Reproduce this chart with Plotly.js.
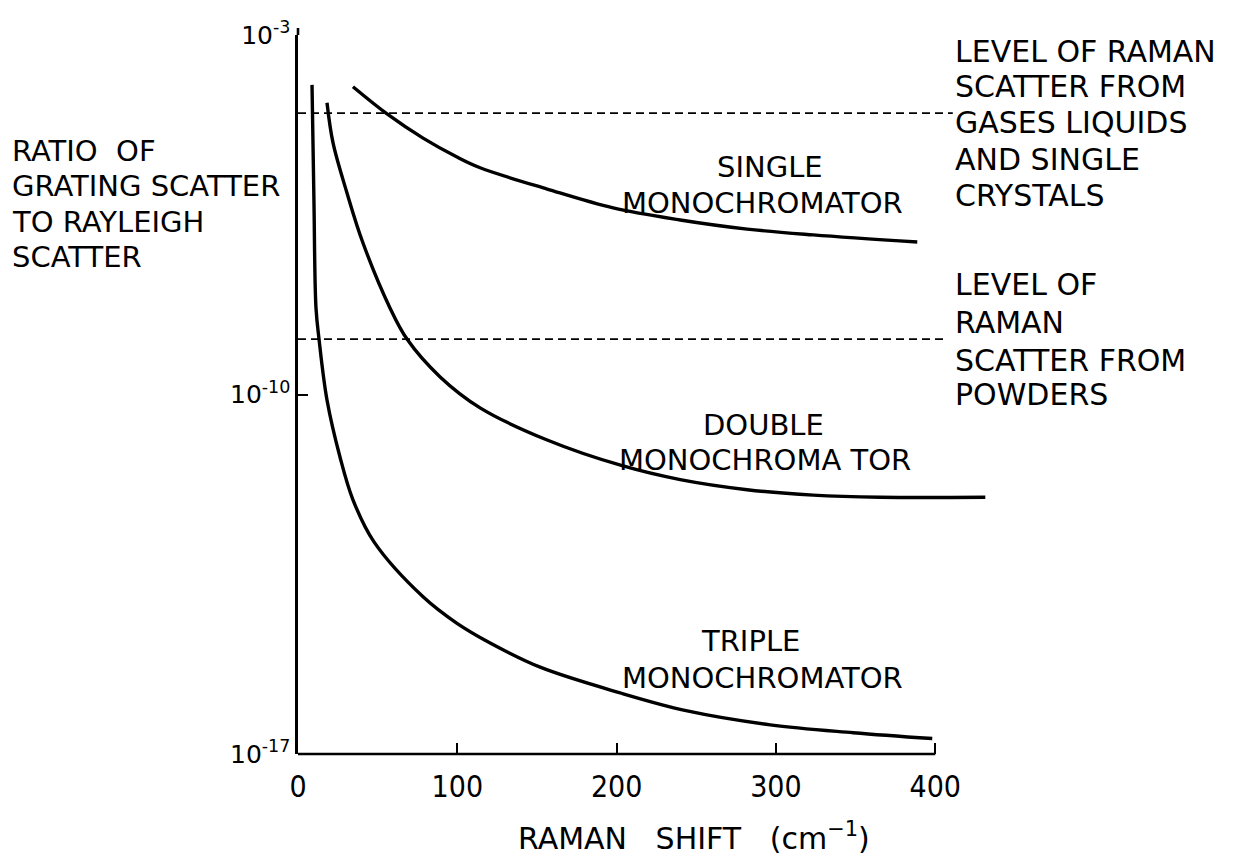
<!DOCTYPE html>
<html>
<head>
<meta charset="utf-8">
<script src="https://cdn.plot.ly/plotly-3.0.1.min.js"></script>
<style>html,body{margin:0;padding:0;background:#fff;}#chart{width:1258px;height:858px;}</style>
</head>
<body>
<div id="chart"></div>
<script>
// ---- data (x: Raman shift cm^-1, y: ratio) ----
const singleX = [34.5, 55.9, 78.5, 99.8, 114.3, 156.4, 197.8, 239.9, 281.9, 323.4, 388.7];
const singleY = [9.8e-5, 2.9e-5, 9.8e-6, 4.2e-6, 2.6e-6, 1.0e-6, 4.3e-7, 2.5e-7, 1.66e-7, 1.28e-7, 9.3e-8];

const doubleX = [18.2, 22.0, 30.8, 40.8, 57.8, 68.4, 89.2, 114.3, 156.4, 203.5, 239.9, 281.9, 323.4, 365.5, 431.4];
const doubleY = [4.8e-5, 7.9e-6, 8.3e-7, 8.9e-8, 4.8e-9, 1.2e-9, 2.2e-10, 5.5e-11, 1.3e-11, 4.1e-12, 2.2e-12, 1.4e-12, 1.1e-12, 1.0e-12, 1.0e-12];

const tripleX = [8.8, 10.0, 11.3, 13.2, 18.2, 26.4, 34.5, 47.7, 78.5, 99.8, 120.6, 152.0, 202.2, 244.3, 296.4, 348.5, 398.1];
const tripleY = [1.07e-4, 6.2e-7, 4.8e-9, 1.2e-9, 7.8e-11, 6.0e-12, 8.9e-13, 1.35e-13, 1.15e-14, 3.5e-15, 1.45e-15, 4.9e-16, 1.55e-16, 6.9e-17, 3.7e-17, 2.6e-17, 2.0e-17];

const gasesLevelX = [0, 411];
const gasesLevelY = [3.0e-5, 3.0e-5];
const powdersLevelX = [0, 405];
const powdersLevelY = [1.2e-9, 1.2e-9];

const xTickVals = [0, 100, 200, 300, 400];
const xTickText = ['0', '100', '200', '300', '400'];
const yTickVals = [1e-3, 1e-10, 1e-17];
const yTickText = ['10<sup>-3</sup>', '10<sup>-10</sup>', '10<sup>-17</sup>'];

// ---- layout geometry ----
const W = 1258, H = 858;
const M = {l: 298, r: 259, t: 35, b: 104};
const PW = W - M.l - M.r, PH = H - M.t - M.b;
const px = x => (x - M.l) / PW;
const py = y => 1 - (y - M.t) / PH;

const FONT = 'DejaVu Sans, Verdana, sans-serif';
const curve = {color: '#000', width: 3.4, shape: 'spline', smoothing: 1.0};
const dashed = {color: '#000', width: 1.8, dash: '8px,5px'};

const traces = [
  {x: singleX, y: singleY, mode: 'lines', line: curve, hoverinfo: 'skip'},
  {x: doubleX, y: doubleY, mode: 'lines', line: curve, hoverinfo: 'skip'},
  {x: tripleX, y: tripleY, mode: 'lines', line: curve, hoverinfo: 'skip'},
  {x: gasesLevelX, y: gasesLevelY, mode: 'lines', line: dashed, hoverinfo: 'skip'},
  {x: powdersLevelX, y: powdersLevelY, mode: 'lines', line: dashed, hoverinfo: 'skip'}
];

function txt(text, x, y, anchor, size) {
  return {text: text, xref: 'paper', yref: 'paper', x: px(x), y: py(y),
          xanchor: anchor || 'left', yanchor: 'middle', showarrow: false,
          font: {family: FONT, size: size || 29, color: '#000'}};
}

const annotations = [
  // y-axis title block
  txt('RATIO\u00a0\u00a0OF', 10, 151),
  txt('GRATING SCATTER', 10, 186),
  txt('TO RAYLEIGH', 10, 222),
  txt('SCATTER', 10, 257),
  // gases / liquids level
  txt('LEVEL OF RAMAN', 953, 52, 'left', 30),
  txt('SCATTER FROM', 953, 87, 'left', 30),
  txt('GASES LIQUIDS', 953, 122, 'left', 30),
  txt('AND SINGLE', 953, 159, 'left', 30),
  txt('CRYSTALS', 953, 195, 'left', 30),
  // powders level
  txt('LEVEL OF', 953, 284, 'left', 30),
  txt('RAMAN', 953, 322, 'left', 30),
  txt('SCATTER FROM', 953, 360, 'left', 30),
  txt('POWDERS', 953, 394, 'left', 30),
  // curve labels
  txt('SINGLE', 770, 167, 'center'),
  txt('MONOCHROMATOR', 762, 203, 'center'),
  txt('DOUBLE', 763, 425, 'center'),
  txt('MONOCHROMA TOR', 765, 460, 'center'),
  txt('TRIPLE', 750, 641, 'center'),
  txt('MONOCHROMATOR', 762, 678, 'center'),
  // x-axis title
  txt('RAMAN\u00a0\u00a0\u00a0SHIFT\u00a0\u00a0\u00a0(cm<sup>\u22121</sup>)', 694, 836, 'center', 30)
];

const layout = {
  width: W, height: H,
  margin: M,
  paper_bgcolor: '#fff', plot_bgcolor: '#fff',
  showlegend: false,
  font: {family: FONT, color: '#000'},
  xaxis: {
    range: [0, 440], showgrid: false, zeroline: false, showline: false,
    tickmode: 'array', tickvals: xTickVals, ticktext: xTickText,
    ticks: 'inside', ticklen: 11, tickwidth: 2, tickcolor: '#000',
    ticklabelstandoff: 12,
    tickfont: {family: 'Liberation Sans Narrow, DejaVu Sans Condensed, DejaVu Sans, sans-serif', size: 30, color: '#000'}
  },
  yaxis: {
    type: 'log', range: [-17, -3], showgrid: false, zeroline: false,
    showline: true, linewidth: 2.6, linecolor: '#000',
    tickmode: 'array', tickvals: yTickVals, ticktext: yTickText,
    ticks: 'inside', ticklen: 10, tickwidth: 2, tickcolor: '#000',
    tickfont: {family: FONT, size: 25, color: '#000'}
  },
  shapes: [
    {type: 'line', xref: 'x', yref: 'paper',
     x0: xTickVals[0], x1: xTickVals[xTickVals.length - 1], y0: 0, y1: 0,
     line: {color: '#000', width: 2.6}},
    {type: 'line', xref: 'paper', yref: 'paper',
     x0: 0, x1: 0, y0: 1, y1: 1 + 7 / PH,
     line: {color: '#000', width: 2.6}}
  ],
  annotations: annotations
};

Plotly.newPlot('chart', traces, layout, {staticPlot: true, displayModeBar: false});
</script>
</body>
</html>
